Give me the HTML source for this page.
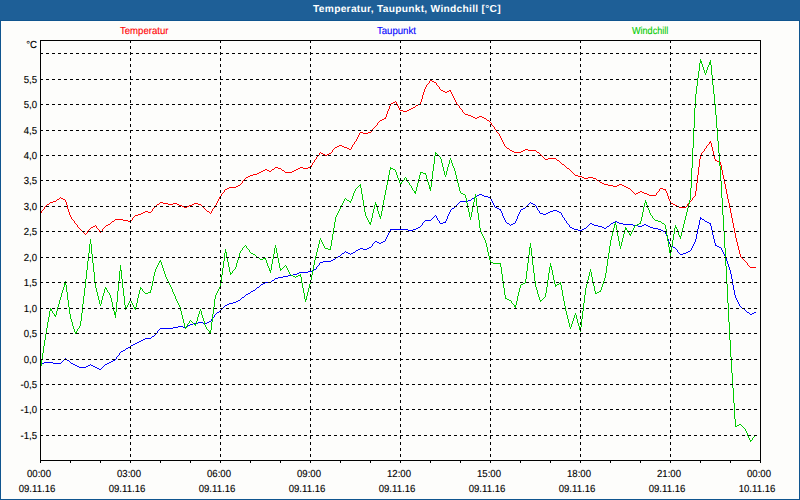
<!DOCTYPE html>
<html><head><meta charset="utf-8"><title>Temperatur, Taupunkt, Windchill</title>
<style>
html,body{margin:0;padding:0;}
body{width:800px;height:500px;overflow:hidden;background:#1e5f97;font-family:"Liberation Sans",sans-serif;position:relative;}
#panel{position:absolute;left:0;top:20px;width:798px;height:478px;background:#fdfdfb;border:1px solid #10558f;}
#title{position:absolute;left:0;top:0;width:800px;height:20px;line-height:19px;text-align:center;color:#fff;font-weight:bold;font-size:10.2px;text-rendering:geometricPrecision;white-space:nowrap;}
.t{position:absolute;font-size:10.2px;line-height:12px;white-space:nowrap;color:#000;transform:scaleX(0.94);text-rendering:geometricPrecision;-webkit-text-stroke:0.12px currentColor;}
.lg{transform-origin:0 0;}
.yl{width:37px;left:0;text-align:right;transform-origin:100% 0;}
.xl{width:80px;text-align:center;transform-origin:50% 0;}
#ttl{display:inline-block;letter-spacing:0.29px;position:relative;left:7px;}
</style></head><body>
<div id="panel"></div>
<div id="title"><span id="ttl">Temperatur, Taupunkt, Windchill [°C]</span></div>

<svg width="800" height="500" viewBox="0 0 800 500" style="position:absolute;left:0;top:0">
<path d="M430 80h2v1h-2zM432 81h2v1h-2zM429 81h1v2h-1zM434 82h2v1h-2zM428 83h1v1h-1zM436 83h1v2h-1zM427 84h1v1h-1zM437 85h1v1h-1zM426 85h1v2h-1zM438 86h1v1h-1zM425 87h1v2h-1zM439 87h1v2h-1zM440 89h1v1h-1zM424 89h1v3h-1zM441 90h2v1h-2zM449 90h1v1h-1zM450 90h1v2h-1zM443 91h2v1h-2zM447 91h2v1h-2zM445 92h2v1h-2zM451 92h1v2h-1zM423 92h1v3h-1zM452 94h1v2h-1zM422 95h1v4h-1zM453 96h1v2h-1zM454 98h1v2h-1zM421 99h1v3h-1zM455 100h1v2h-1zM395 101h1v1h-1zM393 102h2v1h-2zM396 102h1v2h-1zM420 102h1v2h-1zM456 102h1v2h-1zM391 103h2v1h-2zM418 104h2v1h-2zM457 104h1v1h-1zM390 104h1v2h-1zM397 104h1v2h-1zM416 105h2v1h-2zM458 105h1v1h-1zM415 106h1v1h-1zM398 106h1v2h-1zM459 106h1v2h-1zM389 106h1v3h-1zM413 107h2v1h-2zM411 108h2v1h-2zM460 108h1v1h-1zM399 108h1v2h-1zM409 109h2v1h-2zM461 109h1v1h-1zM388 109h1v2h-1zM400 110h3v1h-3zM407 110h2v1h-2zM462 110h1v2h-1zM403 111h4v1h-4zM387 111h1v3h-1zM463 112h1v1h-1zM464 113h1v1h-1zM465 114h3v1h-3zM386 114h1v3h-1zM468 115h3v1h-3zM471 116h2v1h-2zM479 116h3v1h-3zM473 117h2v1h-2zM477 117h2v1h-2zM482 117h2v1h-2zM385 117h1v2h-1zM384 118h1v1h-1zM475 118h2v1h-2zM484 118h2v1h-2zM382 119h2v1h-2zM486 119h1v1h-1zM380 120h2v1h-2zM487 120h2v1h-2zM379 121h1v1h-1zM489 121h1v1h-1zM378 122h1v1h-1zM490 122h1v1h-1zM377 123h1v2h-1zM491 123h1v2h-1zM376 125h1v1h-1zM492 125h1v1h-1zM375 126h1v1h-1zM493 126h1v1h-1zM374 127h1v1h-1zM494 127h1v2h-1zM373 128h1v1h-1zM495 129h1v1h-1zM372 129h1v2h-1zM496 130h1v2h-1zM371 131h1v1h-1zM360 132h3v1h-3zM368 132h3v1h-3zM497 132h1v1h-1zM363 133h5v1h-5zM498 133h1v1h-1zM359 133h1v2h-1zM499 134h1v2h-1zM358 135h1v2h-1zM500 136h1v2h-1zM357 137h1v2h-1zM501 138h1v2h-1zM356 139h1v2h-1zM502 140h1v2h-1zM355 141h1v1h-1zM710 141h1v2h-1zM354 142h1v2h-1zM503 142h1v2h-1zM709 142h1v2h-1zM711 143h1v4h-1zM353 144h1v1h-1zM708 144h1v1h-1zM504 144h1v2h-1zM339 145h3v1h-3zM707 145h1v1h-1zM352 145h1v2h-1zM337 146h2v1h-2zM342 146h2v1h-2zM505 146h1v1h-1zM706 146h1v2h-1zM335 147h2v1h-2zM344 147h3v1h-3zM506 147h1v1h-1zM351 147h1v2h-1zM712 147h1v4h-1zM334 148h1v1h-1zM347 148h2v1h-2zM507 148h2v1h-2zM705 148h1v1h-1zM333 149h1v1h-1zM349 149h2v1h-2zM509 149h1v1h-1zM525 149h3v1h-3zM704 149h1v2h-1zM510 150h2v1h-2zM523 150h2v1h-2zM528 150h8v1h-8zM332 150h1v2h-1zM512 151h2v1h-2zM521 151h2v1h-2zM536 151h1v1h-1zM703 151h1v1h-1zM713 151h1v4h-1zM320 152h1v1h-1zM331 152h1v1h-1zM514 152h7v1h-7zM537 152h2v1h-2zM702 152h1v1h-1zM321 153h2v1h-2zM329 153h2v1h-2zM539 153h1v1h-1zM319 153h1v2h-1zM701 153h1v2h-1zM323 154h2v1h-2zM327 154h2v1h-2zM540 154h1v1h-1zM318 155h1v1h-1zM325 155h2v1h-2zM541 155h1v1h-1zM700 155h1v4h-1zM714 155h1v4h-1zM317 156h1v1h-1zM542 156h1v1h-1zM543 157h1v1h-1zM316 157h1v2h-1zM544 158h1v1h-1zM548 158h8v1h-8zM315 159h1v1h-1zM545 159h3v1h-3zM556 159h1v1h-1zM715 159h1v2h-1zM699 159h1v8h-1zM557 160h2v1h-2zM716 160h1v1h-1zM314 160h1v2h-1zM559 161h1v1h-1zM717 161h2v1h-2zM313 162h1v1h-1zM560 162h1v1h-1zM719 162h1v1h-1zM720 162h1v3h-1zM561 163h1v1h-1zM312 163h1v2h-1zM562 164h2v1h-2zM564 165h1v1h-1zM311 165h1v2h-1zM721 165h1v5h-1zM565 166h1v1h-1zM275 167h3v1h-3zM300 167h3v1h-3zM308 167h3v1h-3zM566 167h1v1h-1zM698 167h1v8h-1zM274 168h1v1h-1zM278 168h3v1h-3zM298 168h2v1h-2zM303 168h5v1h-5zM567 168h2v1h-2zM265 169h2v1h-2zM272 169h2v1h-2zM281 169h1v1h-1zM296 169h2v1h-2zM569 169h1v1h-1zM263 170h2v1h-2zM267 170h2v1h-2zM271 170h1v1h-1zM282 170h2v1h-2zM294 170h2v1h-2zM570 170h1v1h-1zM722 170h1v5h-1zM261 171h2v1h-2zM269 171h2v1h-2zM284 171h1v1h-1zM292 171h2v1h-2zM571 171h1v1h-1zM259 172h2v1h-2zM285 172h7v1h-7zM572 172h1v1h-1zM257 173h2v1h-2zM573 173h1v1h-1zM253 174h4v1h-4zM574 174h1v1h-1zM250 175h3v1h-3zM575 175h3v1h-3zM723 175h1v4h-1zM697 175h1v8h-1zM248 176h2v1h-2zM578 176h4v1h-4zM246 177h2v1h-2zM582 177h2v1h-2zM588 177h5v1h-5zM245 178h1v1h-1zM584 178h4v1h-4zM593 178h3v1h-3zM244 179h1v1h-1zM596 179h1v1h-1zM724 179h1v5h-1zM243 180h1v1h-1zM597 180h2v1h-2zM599 181h1v1h-1zM242 181h1v2h-1zM600 182h2v1h-2zM241 183h1v1h-1zM602 183h2v1h-2zM696 183h1v8h-1zM240 184h1v1h-1zM604 184h4v1h-4zM619 184h3v1h-3zM725 184h1v5h-1zM238 185h2v1h-2zM608 185h5v1h-5zM617 185h2v1h-2zM622 185h2v1h-2zM236 186h2v1h-2zM613 186h4v1h-4zM624 186h2v1h-2zM229 187h7v1h-7zM626 187h2v1h-2zM227 188h2v1h-2zM628 188h2v1h-2zM660 188h3v1h-3zM225 189h2v1h-2zM630 189h1v1h-1zM663 189h2v1h-2zM659 189h1v2h-1zM665 189h1v2h-1zM726 189h1v5h-1zM631 190h1v1h-1zM224 190h1v2h-1zM632 191h1v1h-1zM640 191h2v1h-2zM658 191h1v1h-1zM666 191h1v2h-1zM695 191h1v5h-1zM223 192h1v1h-1zM633 192h1v1h-1zM638 192h2v1h-2zM642 192h2v1h-2zM657 192h1v1h-1zM222 193h1v1h-1zM634 193h1v1h-1zM636 193h2v1h-2zM644 193h3v1h-3zM656 193h1v2h-1zM667 193h1v3h-1zM635 194h1v1h-1zM647 194h2v1h-2zM221 194h1v2h-1zM727 194h1v5h-1zM649 195h7v1h-7zM220 196h1v1h-1zM694 196h1v1h-1zM668 196h1v3h-1zM60 197h1v1h-1zM693 197h1v1h-1zM219 197h1v2h-1zM59 198h1v1h-1zM61 198h2v1h-2zM692 198h1v2h-1zM57 199h2v1h-2zM63 199h2v1h-2zM218 199h1v2h-1zM669 199h1v2h-1zM728 199h1v4h-1zM56 200h1v1h-1zM691 200h1v1h-1zM65 200h1v2h-1zM53 201h3v1h-3zM690 201h1v1h-1zM217 201h1v2h-1zM670 201h1v2h-1zM50 202h3v1h-3zM160 202h3v1h-3zM689 202h1v1h-1zM66 202h1v3h-1zM49 203h1v1h-1zM159 203h1v1h-1zM163 203h5v1h-5zM173 203h4v1h-4zM194 203h4v1h-4zM671 203h2v1h-2zM688 203h1v1h-1zM216 203h1v2h-1zM729 203h1v5h-1zM47 204h2v1h-2zM157 204h2v1h-2zM168 204h5v1h-5zM177 204h2v1h-2zM192 204h2v1h-2zM198 204h3v1h-3zM673 204h2v1h-2zM687 204h1v2h-1zM46 205h1v1h-1zM156 205h1v1h-1zM179 205h3v1h-3zM189 205h3v1h-3zM201 205h1v1h-1zM215 205h1v1h-1zM675 205h2v1h-2zM67 205h1v4h-1zM45 206h1v1h-1zM155 206h1v1h-1zM182 206h2v1h-2zM187 206h2v1h-2zM202 206h1v1h-1zM677 206h2v1h-2zM686 206h1v1h-1zM214 206h1v2h-1zM154 207h1v1h-1zM184 207h3v1h-3zM203 207h1v1h-1zM679 207h7v1h-7zM44 207h1v2h-1zM153 208h1v1h-1zM204 208h1v1h-1zM213 208h1v1h-1zM730 208h1v5h-1zM43 209h1v1h-1zM205 209h1v1h-1zM152 209h1v2h-1zM212 209h1v2h-1zM68 209h1v3h-1zM42 210h1v1h-1zM206 210h1v1h-1zM145 211h3v1h-3zM151 211h1v1h-1zM207 211h2v1h-2zM41 211h1v2h-1zM211 211h1v2h-1zM143 212h2v1h-2zM148 212h3v1h-3zM209 212h1v1h-1zM69 212h1v3h-1zM40 213h1v1h-1zM141 213h2v1h-2zM210 213h1v1h-1zM731 213h1v5h-1zM138 214h3v1h-3zM135 215h3v1h-3zM70 215h1v2h-1zM134 216h1v1h-1zM133 217h1v1h-1zM71 217h1v2h-1zM132 218h1v2h-1zM732 218h1v5h-1zM72 219h1v1h-1zM115 219h8v1h-8zM73 220h1v1h-1zM114 220h1v1h-1zM123 220h5v1h-5zM131 220h1v1h-1zM112 221h2v1h-2zM128 221h3v1h-3zM74 221h1v2h-1zM111 222h1v1h-1zM75 223h1v1h-1zM110 223h1v1h-1zM733 223h1v5h-1zM76 224h1v1h-1zM108 224h2v1h-2zM95 225h1v1h-1zM106 225h2v1h-2zM77 225h1v2h-1zM93 226h2v1h-2zM105 226h1v1h-1zM96 226h1v2h-1zM78 227h1v1h-1zM91 227h2v1h-2zM104 227h1v1h-1zM79 228h1v1h-1zM90 228h1v1h-1zM97 228h1v1h-1zM103 228h1v1h-1zM734 228h1v5h-1zM80 229h1v1h-1zM89 229h1v1h-1zM98 229h1v1h-1zM102 229h1v2h-1zM81 230h1v1h-1zM88 230h1v1h-1zM99 230h1v2h-1zM82 231h1v1h-1zM101 231h1v1h-1zM87 231h1v2h-1zM83 232h1v1h-1zM100 232h1v1h-1zM84 233h1v1h-1zM86 233h1v1h-1zM735 233h1v5h-1zM85 234h1v1h-1zM736 238h1v4h-1zM737 242h1v4h-1zM738 246h1v4h-1zM739 250h1v4h-1zM740 254h1v3h-1zM741 257h1v1h-1zM742 258h1v1h-1zM743 259h1v1h-1zM744 260h1v1h-1zM745 261h1v1h-1zM746 262h1v1h-1zM747 263h1v2h-1zM748 265h1v1h-1zM749 266h1v1h-1zM750 267h6v1h-6z" fill="#ff0000" shape-rendering="crispEdges"/>
<path d="M479 194h3v1h-3zM477 195h2v1h-2zM482 195h2v1h-2zM475 196h2v1h-2zM484 196h4v1h-4zM474 197h1v1h-1zM488 197h2v1h-2zM490 197h1v2h-1zM472 198h2v1h-2zM471 199h1v1h-1zM491 199h1v2h-1zM468 200h3v1h-3zM460 201h8v1h-8zM492 201h1v2h-1zM459 202h1v1h-1zM530 202h1v1h-1zM458 203h1v1h-1zM529 203h1v1h-1zM531 203h2v1h-2zM493 203h1v2h-1zM457 204h1v1h-1zM528 204h1v1h-1zM533 204h2v1h-2zM456 205h1v1h-1zM527 205h1v1h-1zM535 205h1v1h-1zM494 205h1v2h-1zM455 206h1v1h-1zM526 206h1v1h-1zM536 206h1v2h-1zM454 207h1v1h-1zM495 207h2v1h-2zM525 207h1v1h-1zM452 208h2v1h-2zM497 208h2v1h-2zM523 208h2v1h-2zM537 208h1v2h-1zM451 209h1v1h-1zM499 209h1v1h-1zM521 209h2v1h-2zM500 209h1v2h-1zM538 210h1v1h-1zM553 210h4v1h-4zM450 210h1v2h-1zM520 210h1v2h-1zM550 211h3v1h-3zM557 211h2v1h-2zM501 211h1v2h-1zM539 211h1v2h-1zM548 212h2v1h-2zM559 212h2v1h-2zM449 212h1v2h-1zM519 212h1v2h-1zM540 213h3v1h-3zM546 213h2v1h-2zM561 213h1v2h-1zM502 213h1v3h-1zM543 214h3v1h-3zM448 214h1v2h-1zM518 214h1v2h-1zM435 215h1v1h-1zM562 215h1v2h-1zM434 216h1v1h-1zM436 216h1v2h-1zM503 216h1v2h-1zM447 216h1v3h-1zM517 216h1v3h-1zM433 217h1v1h-1zM563 217h1v1h-1zM700 217h1v3h-1zM432 218h1v1h-1zM701 218h1v1h-1zM437 218h1v2h-1zM504 218h1v2h-1zM564 218h1v2h-1zM431 219h1v1h-1zM702 219h2v1h-2zM446 219h1v2h-1zM516 219h1v2h-1zM425 220h6v1h-6zM438 220h1v1h-1zM565 220h1v1h-1zM704 220h1v1h-1zM505 220h1v2h-1zM699 220h1v5h-1zM424 221h1v1h-1zM615 221h2v1h-2zM705 221h2v1h-2zM439 221h1v2h-1zM445 221h1v2h-1zM515 221h1v2h-1zM566 221h1v2h-1zM423 222h1v1h-1zM443 222h2v1h-2zM506 222h1v1h-1zM613 222h2v1h-2zM617 222h2v1h-2zM707 222h2v1h-2zM440 223h3v1h-3zM507 223h2v1h-2zM513 223h2v1h-2zM567 223h1v1h-1zM590 223h2v1h-2zM611 223h2v1h-2zM619 223h4v1h-4zM709 223h1v1h-1zM422 223h1v2h-1zM710 223h1v3h-1zM509 224h1v1h-1zM511 224h2v1h-2zM568 224h1v1h-1zM589 224h1v1h-1zM592 224h2v1h-2zM610 224h1v1h-1zM623 224h10v1h-10zM644 224h2v1h-2zM421 225h1v1h-1zM510 225h1v1h-1zM588 225h1v1h-1zM594 225h4v1h-4zM609 225h1v1h-1zM633 225h5v1h-5zM642 225h2v1h-2zM646 225h2v1h-2zM569 225h1v2h-1zM698 225h1v4h-1zM420 226h1v1h-1zM587 226h1v1h-1zM598 226h4v1h-4zM607 226h2v1h-2zM638 226h4v1h-4zM648 226h2v1h-2zM711 226h1v4h-1zM418 227h2v1h-2zM570 227h2v1h-2zM586 227h1v1h-1zM602 227h2v1h-2zM606 227h1v1h-1zM650 227h3v1h-3zM416 228h2v1h-2zM572 228h2v1h-2zM584 228h2v1h-2zM604 228h2v1h-2zM653 228h5v1h-5zM391 229h17v1h-17zM413 229h3v1h-3zM574 229h4v1h-4zM582 229h2v1h-2zM658 229h3v1h-3zM390 229h1v2h-1zM697 229h1v5h-1zM408 230h5v1h-5zM578 230h4v1h-4zM661 230h2v1h-2zM712 230h1v5h-1zM663 231h2v1h-2zM389 231h1v2h-1zM665 232h1v2h-1zM388 233h1v2h-1zM666 234h1v2h-1zM696 234h1v5h-1zM387 235h1v2h-1zM713 235h1v4h-1zM667 236h1v3h-1zM386 237h1v2h-1zM385 239h1v2h-1zM668 239h1v3h-1zM695 239h1v3h-1zM714 239h1v4h-1zM375 241h2v1h-2zM383 241h2v1h-2zM374 242h1v1h-1zM377 242h2v1h-2zM381 242h2v1h-2zM669 242h1v2h-1zM694 242h1v2h-1zM373 243h1v1h-1zM379 243h2v1h-2zM715 243h1v3h-1zM372 244h1v2h-1zM670 244h1v2h-1zM693 244h1v2h-1zM716 245h1v1h-1zM371 246h1v1h-1zM671 246h2v1h-2zM717 246h2v1h-2zM692 246h1v2h-1zM369 247h2v1h-2zM673 247h2v1h-2zM719 247h2v1h-2zM360 248h3v1h-3zM367 248h2v1h-2zM675 248h1v1h-1zM691 248h1v2h-1zM721 248h1v2h-1zM358 249h2v1h-2zM363 249h4v1h-4zM676 249h1v1h-1zM356 250h2v1h-2zM690 250h1v1h-1zM677 250h1v2h-1zM722 250h1v2h-1zM345 251h1v1h-1zM355 251h1v1h-1zM688 251h2v1h-2zM344 252h1v1h-1zM346 252h2v1h-2zM353 252h2v1h-2zM678 252h1v1h-1zM686 252h2v1h-2zM723 252h1v2h-1zM342 253h2v1h-2zM348 253h2v1h-2zM351 253h2v1h-2zM679 253h1v1h-1zM683 253h3v1h-3zM341 254h1v1h-1zM350 254h1v1h-1zM680 254h3v1h-3zM724 254h1v2h-1zM340 255h1v1h-1zM338 256h2v1h-2zM725 256h1v2h-1zM336 257h2v1h-2zM335 258h1v1h-1zM726 258h1v3h-1zM333 259h2v1h-2zM331 260h2v1h-2zM323 261h8v1h-8zM727 261h1v3h-1zM320 262h3v1h-3zM319 263h1v2h-1zM728 264h1v3h-1zM318 265h1v1h-1zM317 266h1v1h-1zM316 267h1v2h-1zM729 267h1v3h-1zM314 269h2v1h-2zM312 270h2v1h-2zM730 270h1v4h-1zM308 271h4v1h-4zM299 272h9v1h-9zM297 273h2v1h-2zM293 274h4v1h-4zM731 274h1v5h-1zM288 275h5v1h-5zM283 276h5v1h-5zM278 277h5v1h-5zM275 278h3v1h-3zM274 279h1v1h-1zM732 279h1v6h-1zM272 280h2v1h-2zM271 281h1v1h-1zM265 282h6v1h-6zM263 283h2v1h-2zM261 284h2v1h-2zM260 285h1v1h-1zM733 285h1v5h-1zM259 286h1v1h-1zM257 287h2v1h-2zM256 288h1v1h-1zM255 289h1v1h-1zM253 290h2v1h-2zM734 290h1v5h-1zM251 291h2v1h-2zM250 292h1v1h-1zM248 293h2v1h-2zM246 294h2v1h-2zM245 295h1v1h-1zM735 295h1v3h-1zM244 296h1v1h-1zM242 297h2v1h-2zM241 298h1v1h-1zM736 298h1v2h-1zM240 299h1v1h-1zM238 300h2v1h-2zM737 300h1v2h-1zM236 301h2v1h-2zM233 302h3v1h-3zM738 302h1v2h-1zM229 303h4v1h-4zM227 304h2v1h-2zM739 304h1v2h-1zM225 305h2v1h-2zM224 306h1v1h-1zM740 306h1v1h-1zM223 307h1v1h-1zM741 307h1v1h-1zM222 308h1v1h-1zM742 308h2v1h-2zM221 309h1v1h-1zM744 309h1v1h-1zM220 310h1v1h-1zM745 310h1v1h-1zM219 311h1v1h-1zM746 311h1v1h-1zM217 312h2v1h-2zM747 312h2v1h-2zM754 312h2v1h-2zM216 313h1v1h-1zM749 313h1v1h-1zM752 313h2v1h-2zM215 314h1v1h-1zM750 314h2v1h-2zM214 315h1v2h-1zM213 317h1v1h-1zM212 318h1v1h-1zM211 319h1v2h-1zM209 321h2v1h-2zM198 322h5v1h-5zM207 322h2v1h-2zM193 323h5v1h-5zM203 323h4v1h-4zM190 324h3v1h-3zM188 325h2v1h-2zM178 326h5v1h-5zM186 326h2v1h-2zM173 327h5v1h-5zM183 327h3v1h-3zM160 328h13v1h-13zM159 329h1v1h-1zM158 330h1v1h-1zM157 331h1v2h-1zM156 333h1v1h-1zM155 334h1v1h-1zM154 335h1v1h-1zM152 336h2v1h-2zM151 337h1v1h-1zM145 338h6v1h-6zM143 339h2v1h-2zM141 340h2v1h-2zM139 341h2v1h-2zM137 342h2v1h-2zM135 343h2v1h-2zM133 344h2v1h-2zM131 345h2v1h-2zM130 346h1v1h-1zM128 347h2v1h-2zM126 348h2v1h-2zM125 349h1v1h-1zM123 350h2v1h-2zM121 351h2v1h-2zM120 352h1v1h-1zM119 353h1v2h-1zM118 355h1v1h-1zM117 356h1v1h-1zM116 357h1v2h-1zM65 358h1v1h-1zM64 359h1v1h-1zM66 359h1v1h-1zM115 359h1v1h-1zM63 360h1v1h-1zM67 360h2v1h-2zM113 360h2v1h-2zM62 361h1v1h-1zM69 361h1v1h-1zM111 361h2v1h-2zM44 362h9v1h-9zM61 362h1v1h-1zM70 362h1v1h-1zM109 362h2v1h-2zM42 363h2v1h-2zM53 363h8v1h-8zM71 363h2v1h-2zM107 363h2v1h-2zM40 364h2v1h-2zM73 364h2v1h-2zM90 364h1v1h-1zM105 364h2v1h-2zM75 365h2v1h-2zM88 365h2v1h-2zM91 365h2v1h-2zM104 365h1v1h-1zM77 366h2v1h-2zM86 366h2v1h-2zM93 366h2v1h-2zM103 366h1v1h-1zM79 367h7v1h-7zM95 367h2v1h-2zM102 367h1v1h-1zM97 368h2v1h-2zM101 368h1v1h-1zM99 369h2v1h-2z" fill="#0000ff" shape-rendering="crispEdges"/>
<path d="M700 59h1v4h-1zM710 60h1v5h-1zM701 61h1v3h-1zM709 62h1v3h-1zM699 63h1v8h-1zM702 64h1v3h-1zM708 65h1v2h-1zM711 65h1v10h-1zM703 67h1v3h-1zM707 67h1v3h-1zM704 70h1v3h-1zM706 70h1v3h-1zM698 71h1v7h-1zM705 73h1v2h-1zM712 75h1v10h-1zM697 78h1v8h-1zM713 85h1v9h-1zM696 86h1v8h-1zM714 94h1v10h-1zM695 94h1v14h-1zM715 104h1v11h-1zM694 108h1v20h-1zM716 115h1v13h-1zM717 128h1v13h-1zM693 128h1v20h-1zM718 141h1v12h-1zM692 148h1v20h-1zM435 152h1v4h-1zM436 153h1v1h-1zM719 153h1v13h-1zM437 154h1v1h-1zM438 155h1v1h-1zM439 156h1v1h-1zM434 156h1v8h-1zM440 157h1v2h-1zM450 158h1v2h-1zM441 159h1v4h-1zM451 160h1v3h-1zM449 160h1v4h-1zM452 163h1v3h-1zM442 163h1v4h-1zM448 164h1v3h-1zM433 164h1v7h-1zM453 166h1v2h-1zM720 166h1v15h-1zM390 167h1v3h-1zM443 167h1v4h-1zM447 167h1v4h-1zM391 168h2v1h-2zM454 168h1v3h-1zM691 168h1v20h-1zM393 169h2v1h-2zM395 170h1v2h-1zM389 170h1v5h-1zM444 171h1v4h-1zM446 171h1v4h-1zM455 171h1v4h-1zM432 171h1v8h-1zM421 172h2v1h-2zM396 172h1v3h-1zM420 172h1v3h-1zM423 173h2v1h-2zM425 173h1v2h-1zM445 175h1v2h-1zM397 175h1v3h-1zM419 175h1v4h-1zM426 175h1v4h-1zM456 175h1v4h-1zM388 175h1v5h-1zM405 177h1v1h-1zM398 178h1v2h-1zM404 178h1v2h-1zM406 178h1v2h-1zM427 179h1v3h-1zM418 179h1v4h-1zM457 179h1v4h-1zM431 179h1v8h-1zM403 180h1v1h-1zM407 180h1v2h-1zM399 180h1v3h-1zM387 180h1v5h-1zM402 181h1v1h-1zM721 181h1v17h-1zM408 182h1v1h-1zM401 182h1v2h-1zM428 182h1v3h-1zM400 183h1v2h-1zM409 183h1v2h-1zM417 183h1v4h-1zM458 183h1v4h-1zM360 184h1v4h-1zM359 185h1v1h-1zM410 185h1v1h-1zM429 185h1v4h-1zM386 185h1v5h-1zM358 186h1v1h-1zM411 186h1v2h-1zM357 187h1v1h-1zM416 187h1v4h-1zM430 187h1v4h-1zM459 187h1v4h-1zM356 188h1v1h-1zM412 188h1v2h-1zM361 188h1v6h-1zM690 188h1v12h-1zM355 189h1v2h-1zM413 190h1v1h-1zM385 190h1v5h-1zM354 191h1v2h-1zM414 191h1v2h-1zM460 191h1v2h-1zM415 191h1v3h-1zM461 193h2v1h-2zM353 193h1v3h-1zM463 194h2v1h-2zM475 194h1v4h-1zM362 194h1v6h-1zM465 195h1v3h-1zM384 195h1v5h-1zM352 196h1v3h-1zM474 197h1v5h-1zM345 198h1v1h-1zM466 198h1v5h-1zM476 198h1v8h-1zM722 198h1v17h-1zM346 199h1v1h-1zM344 199h1v2h-1zM351 199h1v2h-1zM347 200h2v1h-2zM645 200h1v3h-1zM689 200h1v4h-1zM383 200h1v5h-1zM363 200h1v6h-1zM349 201h1v1h-1zM343 201h1v2h-1zM350 201h1v2h-1zM375 202h1v3h-1zM646 202h1v3h-1zM473 202h1v5h-1zM342 203h1v2h-1zM644 203h1v4h-1zM467 203h1v5h-1zM376 204h1v3h-1zM688 204h1v4h-1zM341 205h1v2h-1zM647 205h1v3h-1zM374 205h1v4h-1zM382 205h1v6h-1zM364 206h1v6h-1zM477 206h1v7h-1zM340 207h1v2h-1zM377 207h1v4h-1zM472 207h1v5h-1zM643 207h1v5h-1zM648 208h1v2h-1zM468 208h1v4h-1zM687 208h1v4h-1zM339 209h1v2h-1zM373 209h1v4h-1zM649 210h1v3h-1zM338 211h1v2h-1zM378 211h1v3h-1zM381 211h1v5h-1zM365 212h1v4h-1zM686 212h1v4h-1zM469 212h1v5h-1zM471 212h1v5h-1zM642 212h1v5h-1zM337 213h1v2h-1zM650 213h1v2h-1zM372 213h1v5h-1zM478 213h1v7h-1zM379 214h1v3h-1zM651 215h1v1h-1zM336 215h1v2h-1zM723 215h1v16h-1zM366 216h1v2h-1zM652 216h1v2h-1zM380 216h1v3h-1zM685 216h1v4h-1zM470 217h1v3h-1zM641 217h1v4h-1zM335 217h1v5h-1zM653 218h1v1h-1zM367 218h1v2h-1zM371 218h1v4h-1zM654 219h1v1h-1zM655 220h3v1h-3zM368 220h1v2h-1zM684 220h1v4h-1zM479 220h1v8h-1zM658 221h3v1h-3zM640 221h1v3h-1zM661 222h1v1h-1zM369 222h1v2h-1zM370 222h1v3h-1zM615 222h1v3h-1zM334 222h1v6h-1zM639 223h1v1h-1zM662 223h2v1h-2zM637 224h2v1h-2zM664 224h1v1h-1zM614 224h1v4h-1zM683 224h1v4h-1zM635 225h2v1h-2zM675 225h1v3h-1zM665 225h1v4h-1zM616 225h1v5h-1zM634 226h1v2h-1zM676 227h1v2h-1zM625 227h1v3h-1zM626 228h1v2h-1zM633 228h1v2h-1zM480 228h1v4h-1zM613 228h1v4h-1zM682 228h1v4h-1zM333 228h1v6h-1zM674 228h1v6h-1zM677 229h1v3h-1zM666 229h1v6h-1zM627 230h1v2h-1zM632 230h1v2h-1zM624 230h1v4h-1zM617 230h1v6h-1zM724 231h1v17h-1zM628 232h1v1h-1zM481 232h1v2h-1zM631 232h1v2h-1zM678 232h1v3h-1zM612 232h1v4h-1zM681 232h1v4h-1zM629 233h1v2h-1zM482 234h1v2h-1zM630 234h1v2h-1zM623 234h1v4h-1zM332 234h1v6h-1zM673 234h1v6h-1zM679 235h1v2h-1zM667 235h1v6h-1zM483 236h1v2h-1zM680 236h1v3h-1zM611 236h1v4h-1zM618 236h1v5h-1zM320 238h1v2h-1zM484 238h1v2h-1zM622 238h1v4h-1zM90 239h1v5h-1zM321 240h1v2h-1zM485 240h1v3h-1zM319 240h1v4h-1zM331 240h1v6h-1zM610 240h1v6h-1zM672 240h1v6h-1zM619 241h1v5h-1zM668 241h1v6h-1zM322 242h1v2h-1zM621 242h1v4h-1zM486 243h1v4h-1zM530 243h1v5h-1zM323 244h1v2h-1zM318 244h1v4h-1zM89 244h1v9h-1zM91 244h1v10h-1zM245 245h1v1h-1zM275 245h1v3h-1zM244 246h1v1h-1zM246 246h1v2h-1zM324 246h1v2h-1zM620 246h1v3h-1zM330 246h1v4h-1zM671 246h1v6h-1zM609 246h1v7h-1zM243 247h1v1h-1zM487 247h1v5h-1zM669 247h1v6h-1zM529 247h1v8h-1zM247 248h1v1h-1zM325 248h3v1h-3zM242 248h1v2h-1zM317 248h1v4h-1zM276 248h1v5h-1zM274 248h1v6h-1zM531 248h1v8h-1zM725 248h1v18h-1zM248 249h1v1h-1zM328 249h2v1h-2zM225 249h1v4h-1zM241 250h1v1h-1zM249 250h1v2h-1zM240 251h1v2h-1zM250 252h1v1h-1zM316 252h1v4h-1zM488 252h1v4h-1zM670 252h1v4h-1zM226 252h1v5h-1zM251 253h2v1h-2zM239 253h1v4h-1zM277 253h1v5h-1zM608 253h1v6h-1zM88 253h1v8h-1zM224 253h1v8h-1zM253 254h2v1h-2zM273 254h1v5h-1zM92 254h1v9h-1zM255 255h1v1h-1zM528 255h1v8h-1zM256 256h1v1h-1zM315 256h1v4h-1zM489 256h1v4h-1zM532 256h1v9h-1zM257 257h2v1h-2zM238 257h1v3h-1zM227 257h1v5h-1zM259 258h1v1h-1zM263 258h2v1h-2zM265 258h1v2h-1zM278 258h1v5h-1zM260 259h3v1h-3zM272 259h1v5h-1zM607 259h1v7h-1zM160 260h1v2h-1zM237 260h1v3h-1zM266 260h1v3h-1zM490 260h1v3h-1zM314 260h1v5h-1zM159 261h1v2h-1zM223 261h1v7h-1zM87 261h1v9h-1zM491 262h2v1h-2zM161 262h1v3h-1zM228 262h1v5h-1zM493 263h7v1h-7zM158 263h1v2h-1zM267 263h1v3h-1zM236 263h1v4h-1zM500 263h1v4h-1zM550 263h1v4h-1zM279 263h1v5h-1zM527 263h1v8h-1zM93 263h1v9h-1zM271 264h1v6h-1zM285 265h1v1h-1zM157 265h1v2h-1zM162 265h1v3h-1zM313 265h1v5h-1zM120 265h1v6h-1zM533 265h1v8h-1zM284 266h1v1h-1zM268 266h1v2h-1zM286 266h1v2h-1zM551 266h1v4h-1zM606 266h1v7h-1zM726 266h1v18h-1zM283 267h1v1h-1zM156 267h1v2h-1zM235 267h1v2h-1zM229 267h1v5h-1zM549 267h1v6h-1zM501 267h1v7h-1zM282 268h1v1h-1zM287 268h1v2h-1zM163 268h1v3h-1zM269 268h1v3h-1zM280 268h1v3h-1zM222 268h1v7h-1zM234 269h1v1h-1zM281 269h1v1h-1zM155 269h1v3h-1zM590 269h1v3h-1zM233 270h1v1h-1zM288 270h1v2h-1zM270 270h1v3h-1zM312 270h1v5h-1zM552 270h1v5h-1zM86 270h1v9h-1zM121 270h1v9h-1zM232 271h1v2h-1zM164 271h1v3h-1zM526 271h1v8h-1zM119 271h1v10h-1zM289 272h1v2h-1zM230 272h1v3h-1zM154 272h1v4h-1zM589 272h1v4h-1zM591 272h1v5h-1zM94 272h1v10h-1zM231 273h1v1h-1zM605 273h1v5h-1zM548 273h1v7h-1zM534 273h1v8h-1zM290 274h1v1h-1zM165 274h1v3h-1zM300 274h1v3h-1zM502 274h1v7h-1zM291 275h2v1h-2zM298 275h2v1h-2zM311 275h1v5h-1zM553 275h1v5h-1zM221 275h1v8h-1zM293 276h2v1h-2zM296 276h2v1h-2zM588 276h1v4h-1zM153 276h1v5h-1zM295 277h1v1h-1zM166 277h1v2h-1zM592 277h1v5h-1zM301 277h1v6h-1zM604 278h1v3h-1zM167 279h1v2h-1zM525 279h1v4h-1zM85 279h1v9h-1zM122 279h1v9h-1zM310 280h1v4h-1zM554 280h1v4h-1zM587 280h1v4h-1zM547 280h1v7h-1zM168 281h1v2h-1zM603 281h1v3h-1zM65 281h1v4h-1zM152 281h1v5h-1zM535 281h1v6h-1zM503 281h1v7h-1zM118 281h1v10h-1zM560 282h1v3h-1zM593 282h1v4h-1zM95 282h1v6h-1zM523 283h2v1h-2zM559 283h1v1h-1zM169 283h1v2h-1zM64 283h1v4h-1zM220 283h1v4h-1zM302 283h1v5h-1zM521 284h2v1h-2zM557 284h2v1h-2zM555 284h1v3h-1zM602 284h1v3h-1zM309 284h1v4h-1zM586 284h1v4h-1zM727 284h1v19h-1zM556 285h1v1h-1zM170 285h1v2h-1zM520 285h1v3h-1zM561 285h1v5h-1zM66 285h1v7h-1zM151 286h1v4h-1zM594 286h1v5h-1zM105 287h1v2h-1zM171 287h1v2h-1zM219 287h1v2h-1zM63 287h1v3h-1zM140 287h1v3h-1zM536 287h1v3h-1zM601 287h1v3h-1zM546 287h1v6h-1zM141 288h1v1h-1zM106 288h1v2h-1zM96 288h1v4h-1zM308 288h1v4h-1zM519 288h1v4h-1zM303 288h1v5h-1zM504 288h1v7h-1zM585 288h1v7h-1zM84 288h1v8h-1zM123 288h1v8h-1zM142 289h1v2h-1zM218 289h1v2h-1zM172 289h1v3h-1zM104 289h1v4h-1zM107 290h1v2h-1zM600 290h1v2h-1zM62 290h1v3h-1zM150 290h1v3h-1zM139 290h1v4h-1zM537 290h1v4h-1zM562 290h1v6h-1zM143 291h1v1h-1zM599 291h1v1h-1zM217 291h1v2h-1zM595 291h1v3h-1zM117 291h1v11h-1zM108 292h1v1h-1zM144 292h1v1h-1zM148 292h2v1h-2zM597 292h2v1h-2zM173 292h1v2h-1zM97 292h1v4h-1zM307 292h1v4h-1zM518 292h1v4h-1zM67 292h1v8h-1zM145 293h3v1h-3zM596 293h1v1h-1zM109 293h1v2h-1zM216 293h1v2h-1zM103 293h1v3h-1zM61 293h1v4h-1zM545 293h1v4h-1zM304 293h1v6h-1zM174 294h1v2h-1zM538 294h1v3h-1zM138 294h1v4h-1zM110 295h1v3h-1zM215 295h1v4h-1zM505 295h1v4h-1zM584 295h1v8h-1zM175 296h1v3h-1zM98 296h1v4h-1zM102 296h1v4h-1zM306 296h1v4h-1zM517 296h1v5h-1zM563 296h1v5h-1zM83 296h1v8h-1zM124 296h1v9h-1zM544 297h1v1h-1zM60 297h1v3h-1zM539 297h1v3h-1zM506 298h1v1h-1zM543 298h1v1h-1zM111 298h1v4h-1zM137 298h1v5h-1zM507 299h2v1h-2zM542 299h1v1h-1zM176 299h1v2h-1zM305 299h1v3h-1zM214 299h1v8h-1zM130 300h1v1h-1zM509 300h2v1h-2zM541 300h1v1h-1zM540 300h1v2h-1zM59 300h1v4h-1zM99 300h1v4h-1zM101 300h1v4h-1zM68 300h1v7h-1zM129 301h1v2h-1zM131 301h1v2h-1zM177 301h1v2h-1zM511 301h1v2h-1zM516 301h1v4h-1zM564 301h1v5h-1zM112 302h1v5h-1zM116 302h1v10h-1zM512 303h1v1h-1zM128 303h1v2h-1zM132 303h1v2h-1zM178 303h1v2h-1zM136 303h1v4h-1zM583 303h1v8h-1zM728 303h1v19h-1zM513 304h1v1h-1zM100 304h1v2h-1zM58 304h1v3h-1zM82 304h1v9h-1zM127 305h1v2h-1zM133 305h1v2h-1zM179 305h1v2h-1zM514 305h1v2h-1zM515 305h1v3h-1zM125 305h1v5h-1zM565 306h1v5h-1zM126 307h1v2h-1zM134 307h1v2h-1zM135 307h1v3h-1zM57 307h1v4h-1zM113 307h1v4h-1zM180 307h1v4h-1zM69 307h1v7h-1zM213 307h1v7h-1zM50 308h1v3h-1zM51 309h1v2h-1zM200 309h1v2h-1zM52 311h1v2h-1zM199 311h1v3h-1zM56 311h1v4h-1zM114 311h1v4h-1zM181 311h1v4h-1zM201 311h1v4h-1zM566 311h1v4h-1zM49 311h1v6h-1zM582 311h1v8h-1zM115 312h1v6h-1zM53 313h1v1h-1zM575 313h1v2h-1zM81 313h1v8h-1zM54 314h1v2h-1zM198 314h1v3h-1zM70 314h1v5h-1zM212 314h1v8h-1zM55 315h1v2h-1zM202 315h1v3h-1zM574 315h1v3h-1zM182 315h1v4h-1zM567 315h1v4h-1zM576 315h1v4h-1zM197 317h1v4h-1zM48 317h1v5h-1zM203 318h1v3h-1zM573 318h1v3h-1zM71 319h1v3h-1zM183 319h1v4h-1zM568 319h1v4h-1zM577 319h1v4h-1zM581 319h1v8h-1zM190 320h1v1h-1zM191 321h1v1h-1zM189 321h1v2h-1zM196 321h1v3h-1zM572 321h1v3h-1zM204 321h1v4h-1zM80 321h1v5h-1zM192 322h1v1h-1zM72 322h1v4h-1zM47 322h1v6h-1zM211 322h1v8h-1zM729 322h1v18h-1zM188 323h1v1h-1zM193 323h1v1h-1zM578 323h1v3h-1zM184 323h1v4h-1zM569 323h1v4h-1zM194 324h1v1h-1zM187 324h1v2h-1zM195 324h1v2h-1zM571 324h1v3h-1zM205 325h1v2h-1zM79 326h1v2h-1zM186 326h1v2h-1zM73 326h1v3h-1zM579 326h1v4h-1zM185 327h1v2h-1zM206 327h1v2h-1zM570 327h1v2h-1zM580 327h1v5h-1zM78 328h1v1h-1zM46 328h1v6h-1zM207 329h1v1h-1zM77 329h1v2h-1zM74 329h1v3h-1zM208 330h1v1h-1zM210 330h1v4h-1zM76 331h1v2h-1zM209 331h1v2h-1zM75 332h1v2h-1zM45 334h1v6h-1zM44 340h1v6h-1zM730 340h1v17h-1zM43 346h1v7h-1zM42 353h1v7h-1zM731 357h1v16h-1zM41 360h1v6h-1zM40 366h1v4h-1zM732 373h1v15h-1zM733 388h1v15h-1zM734 403h1v16h-1zM735 419h1v8h-1zM739 424h2v1h-2zM737 425h2v1h-2zM741 425h1v1h-1zM736 426h1v1h-1zM742 426h1v1h-1zM743 427h1v1h-1zM744 428h1v1h-1zM745 429h1v2h-1zM746 431h1v2h-1zM747 433h1v3h-1zM755 435h1v1h-1zM754 436h1v1h-1zM748 436h1v2h-1zM753 437h1v1h-1zM749 438h1v2h-1zM752 438h1v2h-1zM751 440h1v1h-1zM750 440h1v2h-1z" fill="#00cc00" shape-rendering="crispEdges"/>
<g shape-rendering="crispEdges" fill="none" stroke="#000" stroke-width="1">
<line x1="40" y1="53.5" x2="760" y2="53.5" stroke-dasharray="3 3"/>
<line x1="40" y1="79.5" x2="760" y2="79.5" stroke-dasharray="3 3"/>
<line x1="40" y1="104.5" x2="760" y2="104.5" stroke-dasharray="3 3"/>
<line x1="40" y1="130.5" x2="760" y2="130.5" stroke-dasharray="3 3"/>
<line x1="40" y1="155.5" x2="760" y2="155.5" stroke-dasharray="3 3"/>
<line x1="40" y1="180.5" x2="760" y2="180.5" stroke-dasharray="3 3"/>
<line x1="40" y1="206.5" x2="760" y2="206.5" stroke-dasharray="3 3"/>
<line x1="40" y1="231.5" x2="760" y2="231.5" stroke-dasharray="3 3"/>
<line x1="40" y1="257.5" x2="760" y2="257.5" stroke-dasharray="3 3"/>
<line x1="40" y1="282.5" x2="760" y2="282.5" stroke-dasharray="3 3"/>
<line x1="40" y1="308.5" x2="760" y2="308.5" stroke-dasharray="3 3"/>
<line x1="40" y1="333.5" x2="760" y2="333.5" stroke-dasharray="3 3"/>
<line x1="40" y1="359.5" x2="760" y2="359.5" stroke-dasharray="3 3"/>
<line x1="40" y1="384.5" x2="760" y2="384.5" stroke-dasharray="3 3"/>
<line x1="40" y1="409.5" x2="760" y2="409.5" stroke-dasharray="3 3"/>
<line x1="40" y1="435.5" x2="760" y2="435.5" stroke-dasharray="3 3"/>
<line x1="130.5" y1="40" x2="130.5" y2="460" stroke-dasharray="3 3"/>
<line x1="220.5" y1="40" x2="220.5" y2="460" stroke-dasharray="3 3"/>
<line x1="310.5" y1="40" x2="310.5" y2="460" stroke-dasharray="3 3"/>
<line x1="400.5" y1="40" x2="400.5" y2="460" stroke-dasharray="3 3"/>
<line x1="490.5" y1="40" x2="490.5" y2="460" stroke-dasharray="3 3"/>
<line x1="580.5" y1="40" x2="580.5" y2="460" stroke-dasharray="3 3"/>
<line x1="670.5" y1="40" x2="670.5" y2="460" stroke-dasharray="3 3"/>
<rect x="40.5" y="40.5" width="720" height="420"/>
<line x1="40.5" y1="461" x2="40.5" y2="463"/>
<line x1="70.5" y1="461" x2="70.5" y2="463"/>
<line x1="100.5" y1="461" x2="100.5" y2="463"/>
<line x1="130.5" y1="461" x2="130.5" y2="463"/>
<line x1="160.5" y1="461" x2="160.5" y2="463"/>
<line x1="190.5" y1="461" x2="190.5" y2="463"/>
<line x1="220.5" y1="461" x2="220.5" y2="463"/>
<line x1="250.5" y1="461" x2="250.5" y2="463"/>
<line x1="280.5" y1="461" x2="280.5" y2="463"/>
<line x1="310.5" y1="461" x2="310.5" y2="463"/>
<line x1="340.5" y1="461" x2="340.5" y2="463"/>
<line x1="370.5" y1="461" x2="370.5" y2="463"/>
<line x1="400.5" y1="461" x2="400.5" y2="463"/>
<line x1="430.5" y1="461" x2="430.5" y2="463"/>
<line x1="460.5" y1="461" x2="460.5" y2="463"/>
<line x1="490.5" y1="461" x2="490.5" y2="463"/>
<line x1="520.5" y1="461" x2="520.5" y2="463"/>
<line x1="550.5" y1="461" x2="550.5" y2="463"/>
<line x1="580.5" y1="461" x2="580.5" y2="463"/>
<line x1="610.5" y1="461" x2="610.5" y2="463"/>
<line x1="640.5" y1="461" x2="640.5" y2="463"/>
<line x1="670.5" y1="461" x2="670.5" y2="463"/>
<line x1="700.5" y1="461" x2="700.5" y2="463"/>
<line x1="730.5" y1="461" x2="730.5" y2="463"/>
<line x1="760.5" y1="461" x2="760.5" y2="463"/>
</g>
</svg>
<div class="t lg" id="lg1" style="left:120px;top:26px;color:#ff0000">Temperatur</div>
<div class="t lg" id="lg2" style="left:377px;top:26px;color:#0000ff">Taupunkt</div>
<div class="t lg" id="lg3" style="left:632px;top:26px;color:#00cc00;transform:scaleX(0.89)">Windchill</div>
<div class="t yl" style="top:40px">°C</div>
<div class="t yl" style="top:75px">5,5</div>
<div class="t yl" style="top:100px">5,0</div>
<div class="t yl" style="top:126px">4,5</div>
<div class="t yl" style="top:151px">4,0</div>
<div class="t yl" style="top:176px">3,5</div>
<div class="t yl" style="top:202px">3,0</div>
<div class="t yl" style="top:227px">2,5</div>
<div class="t yl" style="top:253px">2,0</div>
<div class="t yl" style="top:278px">1,5</div>
<div class="t yl" style="top:304px">1,0</div>
<div class="t yl" style="top:329px">0,5</div>
<div class="t yl" style="top:355px">0,0</div>
<div class="t yl" style="top:380px">-0,5</div>
<div class="t yl" style="top:405px">-1,0</div>
<div class="t yl" style="top:431px">-1,5</div>
<div class="t xl" style="left:-1.5px;top:469px">00:00</div>
<div class="t xl" style="left:-3px;top:484px">09.11.16</div>
<div class="t xl" style="left:88.5px;top:469px">03:00</div>
<div class="t xl" style="left:87px;top:484px">09.11.16</div>
<div class="t xl" style="left:178.5px;top:469px">06:00</div>
<div class="t xl" style="left:177px;top:484px">09.11.16</div>
<div class="t xl" style="left:268.5px;top:469px">09:00</div>
<div class="t xl" style="left:267px;top:484px">09.11.16</div>
<div class="t xl" style="left:358.5px;top:469px">12:00</div>
<div class="t xl" style="left:357px;top:484px">09.11.16</div>
<div class="t xl" style="left:448.5px;top:469px">15:00</div>
<div class="t xl" style="left:447px;top:484px">09.11.16</div>
<div class="t xl" style="left:538.5px;top:469px">18:00</div>
<div class="t xl" style="left:537px;top:484px">09.11.16</div>
<div class="t xl" style="left:628.5px;top:469px">21:00</div>
<div class="t xl" style="left:627px;top:484px">09.11.16</div>
<div class="t xl" style="left:718.5px;top:469px">00:00</div>
<div class="t xl" style="left:717px;top:484px">10.11.16</div>
</body></html>
